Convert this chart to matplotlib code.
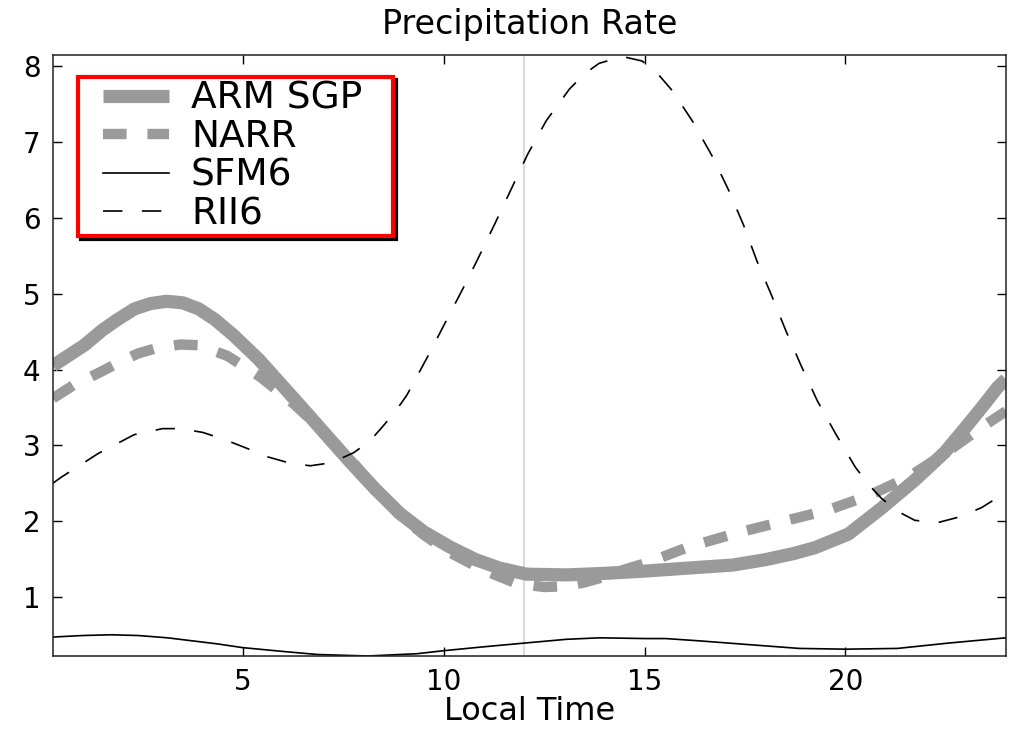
import matplotlib
matplotlib.use('Agg')
import matplotlib.pyplot as plt
from matplotlib.path import Path

plt.rcParams['font.family'] = ['DejaVu Sans']
plt.rcParams['lines.scale_dashes'] = False

# values (local time in hours, precip rate)
arm_x = [0.27, 0.7, 1.05, 1.5, 1.88, 2.3, 2.7, 3.1, 3.5, 3.9, 4.3, 4.77, 5.4,
         6.01, 6.6, 7.25, 7.67, 8.3, 8.91, 9.5, 10.15, 10.8, 11.39, 12.06,
         13.06, 14.0, 15.0, 16.36, 17.2, 18.0, 18.7, 19.25, 20.08, 20.9,
         21.73, 22.48, 22.97, 23.4, 23.8, 24.0]
arm_y = [4.05, 4.20, 4.32, 4.52, 4.66, 4.80, 4.87, 4.90, 4.88, 4.80, 4.66, 4.45,
         4.13, 3.77, 3.42, 3.03, 2.78, 2.42, 2.10, 1.86, 1.66, 1.49, 1.38, 1.30,
         1.29, 1.31, 1.34, 1.39, 1.42, 1.49, 1.57, 1.65, 1.83, 2.17,
         2.54, 2.91, 3.22, 3.50, 3.77, 3.87]

narr_x = [0.27, 0.8, 1.39, 1.9, 2.38, 2.9, 3.45, 3.9, 4.61, 5.44, 6.26, 6.93,
          7.7, 8.3, 8.9, 9.5, 10.1, 11.0, 11.8, 12.5, 13.0, 13.5, 13.9, 14.5,
          15.12, 16.1, 17.35, 18.4, 19.54, 20.6, 21.57, 22.5, 23.4, 24.0]
narr_y = [3.62, 3.80, 3.95, 4.09, 4.21, 4.29, 4.33, 4.32, 4.18, 3.90, 3.55, 3.22,
          2.80, 2.42, 2.08, 1.82, 1.60, 1.35, 1.18, 1.13, 1.14, 1.19, 1.25, 1.36,
          1.46, 1.66, 1.85, 1.99, 2.14, 2.34, 2.58, 2.90, 3.24, 3.45]

sfm_x = [0.27, 1.0, 1.72, 2.4, 3.12, 4.36, 5.0, 6.0, 6.85, 8.1, 9.33, 10.0,
         10.97, 12.0, 13.05, 13.88, 15.03, 15.53, 16.36, 17.6, 18.85, 20.0,
         21.3, 22.56, 24.0]
sfm_y = [0.47, 0.49, 0.50, 0.49, 0.46, 0.38, 0.33, 0.28, 0.24, 0.22, 0.25, 0.29,
         0.34, 0.39, 0.44, 0.46, 0.45, 0.45, 0.42, 0.37, 0.32, 0.31,
         0.32, 0.39, 0.46]

rii_x = [0.27, 0.48, 1.39, 2.29, 3.0, 3.45, 4.0, 4.52, 5.1, 5.6, 6.2, 6.68, 7.2,
         7.75, 8.15, 8.5, 8.8, 9.08, 9.6, 10.0, 10.5, 10.85, 11.27, 11.68,
         12.09, 12.55, 13.13, 13.5, 13.87, 14.45, 14.94, 15.3, 15.69, 16.19,
         16.68, 17.1, 17.47, 17.8, 18.17, 18.52, 18.9, 19.3, 19.75, 20.25,
         20.6, 20.9, 21.3, 21.73, 22.3, 22.88, 23.4, 24.0]
rii_y = [2.50, 2.58, 2.89, 3.14, 3.22, 3.22, 3.17, 3.08, 2.96, 2.85, 2.76, 2.73,
         2.77, 2.90, 3.05, 3.26, 3.45, 3.66, 4.17, 4.58, 5.09, 5.46, 5.92, 6.38,
         6.84, 7.28, 7.70, 7.90, 8.04, 8.13, 8.07, 7.92, 7.68, 7.28,
         6.82, 6.36, 5.90, 5.43, 4.97, 4.51, 4.05, 3.59, 3.16, 2.71,
         2.47, 2.30, 2.13, 2.01, 1.98, 2.06, 2.18, 2.38]

gray = '#9a9a9a'


def wide_box(x0, y0, width, height, mutation_size):
    # legend frame with more room left/right than top/bottom
    left = x0 - 0.55 * mutation_size
    right = x0 + width + 0.72 * mutation_size
    top = y0 + height
    return Path([(left, y0), (right, y0), (right, top), (left, top), (left, y0)],
                closed=True)


fig = plt.figure(figsize=(10.09, 7.31), dpi=100)
ax = fig.add_axes([0.0525, 0.1026, 0.9445, 0.8222])

ax.axvline(12, color='#dcdcdc', lw=1.6, zorder=0)

ax.plot(arm_x, arm_y, color=gray, lw=9.5, solid_capstyle='butt',
        solid_joinstyle='round', label='ARM SGP')
ax.plot(narr_x, narr_y, color=gray, lw=7.5, linestyle=(0, (17, 15)),
        dash_capstyle='butt', label='NARR')
ax.plot(sfm_x, sfm_y, color='black', lw=1.2, label='SFM6')
ax.plot(rii_x, rii_y, color='black', lw=1.2, linestyle=(0, (14, 14)), label='RII6')

ax.set_xlim(0.27, 24)
ax.set_ylim(0.22, 8.15)
ax.set_xticks([5, 10, 15, 20])
ax.set_yticks([1, 2, 3, 4, 5, 6, 7, 8])
ax.tick_params(direction='in', length=6.5, width=1, labelsize=20, pad=9,
               top=True, right=True)
ax.tick_params(axis='x', pad=9)
for s in ax.spines.values():
    s.set_linewidth(1.1)
    s.set_color('#222222')

ax.set_title('Precipitation Rate', fontsize=24, pad=15)
ax.set_xlabel('Local Time', fontsize=23, labelpad=0)

leg = ax.legend(loc='upper left', bbox_to_anchor=(0.0483, 0.9634),
                fontsize=27, frameon=True, fancybox=False,
                borderaxespad=0, borderpad=0.1, labelspacing=0.07,
                handlelength=1.76, handletextpad=0.59,
                shadow={'color': 'black', 'alpha': 1})
frame = leg.get_frame()
frame.set_boxstyle(wide_box)
frame.set_edgecolor('red')
frame.set_linewidth(3)
frame.set_facecolor('white')
frame.set_alpha(1)

fig.savefig('out.png', dpi=100)
